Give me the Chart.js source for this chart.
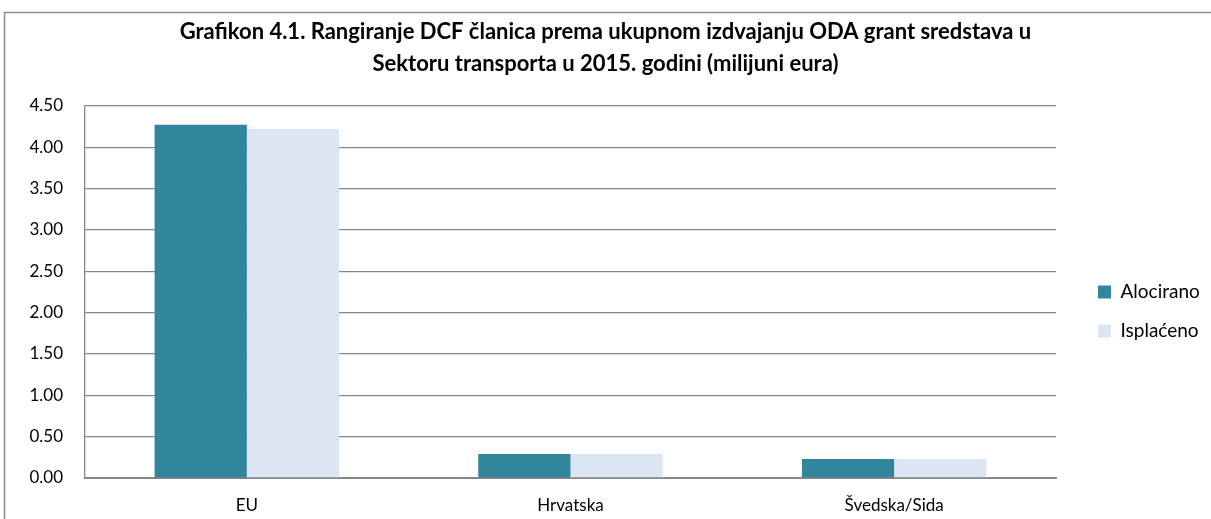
<!DOCTYPE html>
<html>
<head>
<meta charset="utf-8">
<script src="https://cdn.jsdelivr.net/npm/chart.js@4/dist/chart.umd.min.js"></script>
<style>
  body { margin: 0; background: #fff; }
  #wrap { position: absolute; left: 0; top: 0; width: 1211px; height: 519px; }
</style>
</head>
<body>
<div id="wrap"><canvas id="grafikon"></canvas></div>
<script>
var kategorije = ["EU", "Hrvatska", "Švedska/Sida"];
var alocirano = [4.27, 0.29, 0.23];
var isplaceno = [4.22, 0.29, 0.23];
var naslov = [
    "Grafikon 4.1. Rangiranje DCF članica prema ukupnom izdvajanju ODA grant sredstava u",
    "Sektoru transporta u 2015. godini (milijuni eura)"
];

var font = "Lato, 'Open Sans', sans-serif";

// okvir oko cijelog grafikona + polozaj legende
var okvir = {
    id: "okvir",
    afterInit: function (chart) {
        var lg = chart.legend;
        if (lg) {
            var orig = lg.fit;
            lg.fit = function () {
                orig.call(this);
                this.width = 155;
            };
        }
    },
    afterLayout: function (chart) {
        var lg = chart.legend;
        if (lg) {
            lg.top += 44;
            lg.bottom += 44;
            lg.left += 22;
            lg.right += 22;
        }
    },
    beforeDraw: function (chart) {
        var ctx = chart.ctx;
        ctx.save();
        ctx.fillStyle = "#fff";
        ctx.fillRect(0, 0, chart.width, chart.height);
        ctx.strokeStyle = "#8c8c8c";
        ctx.lineWidth = 1.5;
        ctx.strokeRect(4.5, 12.5, 1400, 700);
        ctx.restore();
    }
};

var ctx = document.getElementById("grafikon").getContext("2d");

new Chart(ctx, {
    type: "bar",
    data: {
        labels: kategorije,
        datasets: [
            {
                label: "Alocirano",
                data: alocirano,
                backgroundColor: "#31859C",
                borderWidth: 0,
                barPercentage: 1.0,
                categoryPercentage: 0.57,
            },
            {
                label: "Isplaćeno",
                data: isplaceno,
                backgroundColor: "#DCE6F2",
                borderWidth: 0,
                barPercentage: 1.0,
                categoryPercentage: 0.57,
            },
        ],
    },
    options: {
        responsive: true,
        maintainAspectRatio: false,
        animation: false,
        devicePixelRatio: 1,
        layout: {
            padding: { left: 0, right: 0, top: 16, bottom: 0 },
        },
        plugins: {
            title: {
                display: true,
                text: naslov,
                color: "#000",
                font: { family: font, size: 22, weight: "bold", lineHeight: 1.45 },
                padding: { top: 0, bottom: 26 },
            },
            legend: {
                position: "right",
                labels: {
                    color: "#000",
                    font: { family: font, size: 19 },
                    boxWidth: 13,
                    boxHeight: 13,
                    padding: 20,
                },
            },
            tooltip: { enabled: false },
        },
        scales: {
            x: {
                afterFit: function (axis) { axis.height = 41; },
                grid: { display: false, drawTicks: false },
                border: { color: "#868686", width: 2 },
                ticks: {
                    color: "#000",
                    font: { family: font, size: 17 },
                    padding: 17,
                },
            },
            y: {
                min: 0,
                max: 4.5,
                afterFit: function (axis) { axis.width = 85; },
                grid: { color: "#868686", lineWidth: 1.3, drawTicks: false },
                border: { display: true, color: "#868686", width: 1.3 },
                ticks: {
                    stepSize: 0.5,
                    color: "#000",
                    font: { family: font, size: 17 },
                    padding: 22,
                    callback: function (v) { return Number(v).toFixed(2); },
                },
            },
        },
    },
    plugins: [okvir],
});
</script>
</body>
</html>
